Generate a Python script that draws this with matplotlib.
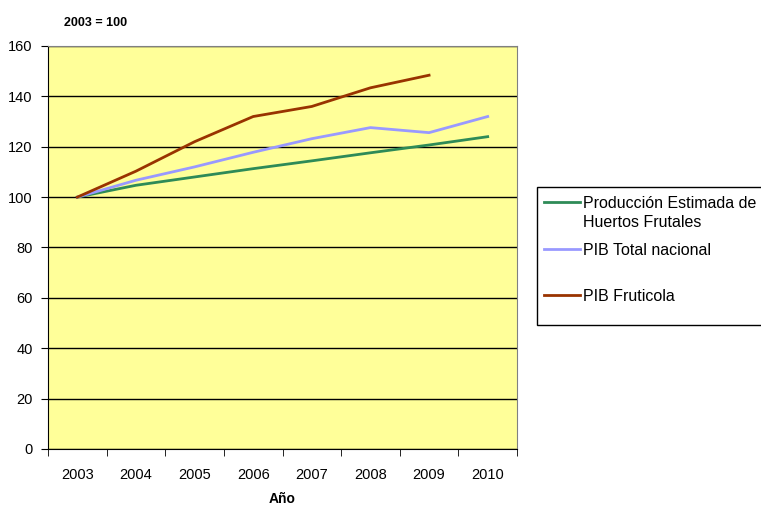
import matplotlib
matplotlib.use("Agg")
import matplotlib.pyplot as plt
from matplotlib.lines import Line2D
from matplotlib.patches import Rectangle
import numpy as np

plt.rcParams["font.family"] = ["Liberation Sans", "DejaVu Sans"]

years = ["2003", "2004", "2005", "2006", "2007", "2008", "2009", "2010"]
produccion_huertos = [100, 104.7, 108, 111.3, 114.4, 117.6, 120.7, 124]
pib_total = [100, 106.7, 112, 117.8, 123.2, 127.6, 125.6, 132]
pib_fruticola = [100, 110.3, 122, 132, 136, 143.4, 148.4]

labels = ["Producción Estimada de\nHuertos Frutales", "PIB Total nacional", "PIB Fruticola"]
colors = ["#2E8B57", "#9999FF", "#993300"]

W, H = 761, 505
fig = plt.figure(figsize=(W / 100, H / 100), dpi=100)
ax = fig.add_axes([48 / W, 1 - 449 / H, 469 / W, 403 / H])
ax.set_facecolor("#FFFF99")

x = np.arange(len(years))
series = [produccion_huertos, pib_total, pib_fruticola]
for vals, color in zip(series, colors):
    ax.plot(x[: len(vals)], vals, color=color, linewidth=2)

ax.set_xlim(-0.5, len(years) - 0.5)
ax.set_ylim(0, 160)
ax.set_yticks(np.arange(0, 161, 20))
ax.yaxis.grid(True, color="black", linewidth=1)
ax.set_axisbelow(True)

# category labels centred, tick marks on the boundaries
ax.set_xticks(x)
ax.set_xticklabels(years)
ax.set_xticks(np.arange(-0.5, len(years)), minor=True)
ax.tick_params(axis="x", which="major", length=0, pad=14, labelsize=10.5)
ax.tick_params(axis="x", which="minor", length=5, color="black", direction="out")
ax.tick_params(axis="y", length=5, color="black", direction="out", labelsize=10.5, pad=6)

for side in ("top", "right"):
    ax.spines[side].set_color("#808080")
for side in ("left", "bottom"):
    ax.spines[side].set_color("black")

ax.set_xlabel("Año", fontweight="bold", fontsize=10, labelpad=7)
fig.text(64 / W, 1 - 23 / H, "2003 = 100", fontsize=9, fontweight="bold", va="center")

# legend box, drawn in figure pixels
fig.add_artist(Rectangle((537 / W, 1 - 325 / H), 240 / W, 138 / H,
                         transform=fig.transFigure, facecolor="white",
                         edgecolor="black", linewidth=1, clip_on=False))
entry_y = [202, 249, 295]
for label, color, yy in zip(labels, colors, entry_y):
    fig.add_artist(Line2D([544 / W, 580 / W], [1 - yy / H, 1 - yy / H],
                          transform=fig.transFigure, color=color, linewidth=2))
    fig.text(583 / W, 1 - (yy - 6) / H, label, fontsize=11.5, va="top",
             linespacing=1.3)

fig.savefig("out.png", dpi=100)
